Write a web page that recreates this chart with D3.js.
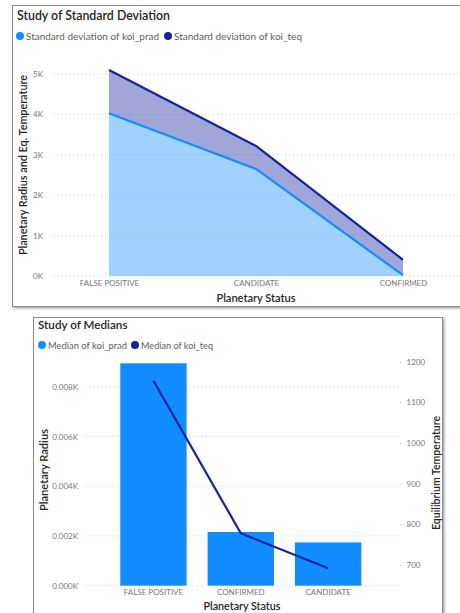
<!DOCTYPE html>
<html>
<head>
<meta charset="utf-8">
<script src="https://cdn.jsdelivr.net/npm/d3@7"></script>
<style>
  html, body { margin: 0; padding: 0; background: #fff; }
  svg { display: block; }
  text { font-family: Lato, "Noto Sans", sans-serif; }
</style>
</head>
<body>
<svg id="chart" width="460" height="613"></svg>
<script>
// Study of Standard Deviation (stacked area)
const sdCategories = ["FALSE POSITIVE", "CANDIDATE", "CONFIRMED"];
const sdPrad = [4030, 2650, 20];
const sdTeq = [1070, 570, 380];
const sdTicks = [0, 1000, 2000, 3000, 4000, 5000];

// Study of Medians (bars + line on a secondary axis)
const medCategories = ["FALSE POSITIVE", "CONFIRMED", "CANDIDATE"];
const medPrad = [8.94, 2.16, 1.74];
const medTeq = [1153, 778, 692];
const medLeftTicks = [0, 2, 4, 6, 8];
const medRightTicks = [700, 800, 900, 1000, 1100, 1200];

const LIGHT = "#118DFF";
const DARK = "#12239E";
const TITLE = "#252423";
const TICK = "#777777";
const TICK_FONT = "Roboto, sans-serif";

const svg = d3.select("#chart");

// scale a label's font size so its run fits the wanted width, then pin the run length
function fit(sel, width) {
  const fs = parseFloat(sel.attr("font-size"));
  const w = sel.node().getComputedTextLength();
  if (w > 0) sel.attr("font-size", (fs * width / w).toFixed(2));
  sel.attr("textLength", width).attr("lengthAdjust", "spacingAndGlyphs");
  return sel;
}

// panel frames with a soft shadow
const defs = svg.append("defs");
const f = defs.append("filter").attr("id", "shadow").attr("x", "-5%").attr("y", "-5%").attr("width", "115%").attr("height", "115%");
f.append("feDropShadow").attr("dx", 1.5).attr("dy", 1.5).attr("stdDeviation", 1.2).attr("flood-color", "#000").attr("flood-opacity", 0.35);

svg.append("rect").attr("x", 12.5).attr("y", 5.5).attr("width", 470).attr("height", 301)
  .attr("fill", "#fff").attr("stroke", "#8a8a8a").attr("stroke-width", 1).attr("filter", "url(#shadow)");
svg.append("rect").attr("x", 33.5).attr("y", 317.5).attr("width", 409).attr("height", 320)
  .attr("fill", "#fff").attr("stroke", "#8a8a8a").attr("stroke-width", 1).attr("filter", "url(#shadow)");

function legend(g, items) {
  items.forEach(it => {
    g.append("circle").attr("cx", it.x).attr("cy", it.y).attr("r", 4).attr("fill", it.color);
    const t = g.append("text").attr("x", it.x + 6).attr("y", it.y + 3.5).attr("font-size", 10)
      .attr("fill", "#605E5C").text(it.label);
    fit(t, it.w);
  });
}

function styleTicks(g) {
  g.select(".domain").remove();
  g.selectAll("text").attr("font-size", 8).attr("fill", TICK).attr("font-family", TICK_FONT);
}

function title(g, x, y, txt, w) {
  const t = g.append("text").attr("x", x).attr("y", y).attr("font-size", 11).attr("font-weight", 600)
    .attr("fill", TITLE).text(txt);
  fit(t, w);
}

function axisTitle(g, transform, txt, w) {
  const t = g.append("text").attr("transform", transform).attr("text-anchor", "middle")
    .attr("font-size", 10.5).attr("font-weight", 600).attr("fill", TITLE).text(txt);
  fit(t, w);
}

// ---------- upper chart ----------
const gSd = svg.append("g");
title(gSd, 17, 19.5, "Study of Standard Deviation", 153);
legend(gSd, [
  { x: 20, y: 36, color: LIGHT, label: "Standard deviation of koi_prad", w: 133 },
  { x: 168, y: 36, color: DARK, label: "Standard deviation of koi_teq", w: 128 }
]);

const xSd = d3.scalePoint().domain(sdCategories).range([109, 403]);
const ySd = d3.scaleLinear().domain([0, 5000]).range([276, 74]);

// dotted gridlines
gSd.append("g").selectAll("line").data(sdTicks).join("line")
  .attr("x1", 53).attr("x2", 460).attr("y1", d => ySd(d)).attr("y2", d => ySd(d))
  .attr("stroke", "#c8c8c8").attr("stroke-width", 1).attr("stroke-dasharray", "1,3");

const yAxisSd = d3.axisLeft(ySd).tickValues(sdTicks).tickSize(0).tickPadding(0)
  .tickFormat(d => (d / 1000) + "K");
gSd.append("g").attr("transform", "translate(43,0)").call(yAxisSd).call(styleTicks);

const stackData = sdCategories.map((c, i) => ({ cat: c, prad: sdPrad[i], teq: sdTeq[i] }));
const series = d3.stack().keys(["prad", "teq"])(stackData);
const area = d3.area().x(d => xSd(d.data.cat)).y0(d => ySd(d[0])).y1(d => ySd(d[1]));
const line = d3.line().x(d => xSd(d.data.cat)).y(d => ySd(d[1]));
const colors = { prad: LIGHT, teq: DARK };

series.forEach(s => {
  gSd.append("path").datum(s).attr("d", area).attr("fill", colors[s.key]).attr("fill-opacity", 0.4);
});
series.forEach(s => {
  gSd.append("path").datum(s).attr("d", line).attr("fill", "none")
    .attr("stroke", colors[s.key]).attr("stroke-width", 2.2).attr("stroke-linejoin", "round");
});

const xAxisSd = d3.axisBottom(xSd).tickSize(0).tickPadding(0);
gSd.append("g").attr("transform", "translate(0,280)").call(xAxisSd).call(styleTicks);

axisTitle(gSd, "translate(256,301.5)", "Planetary Status", 79);
axisTitle(gSd, "translate(26.5,165) rotate(-90)", "Planetary Radius and Eq. Temperature", 180);

// ---------- lower chart ----------
const gMed = svg.append("g");
title(gMed, 38, 328.5, "Study of Medians", 89.5);
legend(gMed, [
  { x: 42, y: 345, color: LIGHT, label: "Median of koi_prad", w: 79 },
  { x: 135, y: 345, color: DARK, label: "Median of koi_teq", w: 72 }
]);

const xMed = d3.scaleBand().domain(medCategories).range([109.8, 371.8]).paddingInner(0.24).paddingOuter(0.12);
const yLeft = d3.scaleLinear().domain([0, 8]).range([585.7, 386.7]);
const yRight = d3.scaleLinear().domain([700, 1200]).range([565, 361.7]);

gMed.append("g").selectAll("line").data(medLeftTicks).join("line")
  .attr("x1", 85).attr("x2", 398).attr("y1", d => yLeft(d)).attr("y2", d => yLeft(d))
  .attr("stroke", "#c8c8c8").attr("stroke-width", 1).attr("stroke-dasharray", "1,3");

const yAxisLeft = d3.axisLeft(yLeft).tickValues(medLeftTicks).tickSize(0).tickPadding(0)
  .tickFormat(d => (d / 1000).toFixed(3) + "K");
gMed.append("g").attr("transform", "translate(78,0)").call(yAxisLeft).call(styleTicks);

const yAxisRight = d3.axisRight(yRight).tickValues(medRightTicks).tickSize(1.5).tickPadding(5)
  .tickFormat(d3.format("d"));
gMed.append("g").attr("transform", "translate(400,0)").call(yAxisRight).call(styleTicks)
  .call(g => g.selectAll("line").attr("stroke", "#c8c8c8"));

gMed.append("g").selectAll("rect").data(medCategories).join("rect")
  .attr("x", d => xMed(d)).attr("width", xMed.bandwidth())
  .attr("y", (d, i) => yLeft(medPrad[i])).attr("height", (d, i) => yLeft(0) - yLeft(medPrad[i]))
  .attr("fill", LIGHT);

const teqLine = d3.line().x((d, i) => xMed(medCategories[i]) + xMed.bandwidth() / 2).y(d => yRight(d));
gMed.append("path").datum(medTeq).attr("d", teqLine).attr("fill", "none")
  .attr("stroke", DARK).attr("stroke-width", 2.2).attr("stroke-linejoin", "round");

const xAxisMed = d3.axisBottom(xMed).tickSize(0).tickPadding(0);
gMed.append("g").attr("transform", "translate(0,589.5)").call(xAxisMed).call(styleTicks);

axisTitle(gMed, "translate(242,609.5)", "Planetary Status", 77);
axisTitle(gMed, "translate(47.5,470) rotate(-90)", "Planetary Radius", 82);
axisTitle(gMed, "translate(440,473) rotate(-90)", "Equilibrium Temperature", 114);
</script>
</body>
</html>
